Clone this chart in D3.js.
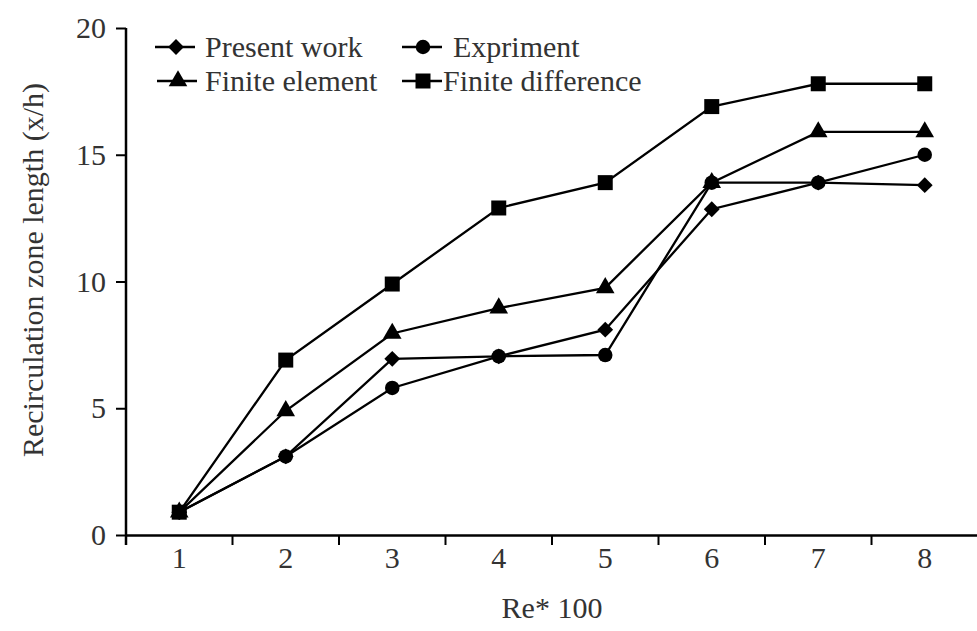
<!DOCTYPE html>
<html>
<head>
<meta charset="utf-8">
<script src="https://cdn.jsdelivr.net/npm/d3@7"></script>
<style>
  body { margin: 0; background: #fff; }
  text { font-family: "Liberation Serif", "Times New Roman", serif; fill: #333; }
</style>
</head>
<body>
<div id="chart"></div>
<script>
// Data
const categories = ["1", "2", "3", "4", "5", "6", "7", "8"];
const presentWork = [0.9, 3.1, 6.95, 7.05, 8.1, 12.85, 13.9, 13.8];
const experiment = [0.9, 3.1, 5.8, 7.05, 7.1, 13.9, 13.9, 15.0];
const finiteElement = [0.9, 4.9, 7.95, 8.95, 9.75, 13.9, 15.9, 15.9];
const finiteDifference = [0.9, 6.9, 9.9, 12.9, 13.9, 16.9, 17.8, 17.8];
const yTicks = [0, 5, 10, 15, 20];

const series = [
  { name: "Present work", values: presentWork, symbol: "diamond" },
  { name: "Expriment", values: experiment, symbol: "circle" },
  { name: "Finite element", values: finiteElement, symbol: "triangle" },
  { name: "Finite difference", values: finiteDifference, symbol: "square" }
];

const W = 977, H = 631;
const plotLeft = 126, plotBottom = 535, plotTop = 28;

const svg = d3.select("#chart").append("svg")
  .attr("width", W)
  .attr("height", H);

// Scales
const x = d3.scaleBand().domain(categories).range([plotLeft, plotLeft + 8 * 106.5]);
const y = d3.scaleLinear().domain([0, 20]).range([plotBottom, plotTop]);

// Marker shapes
function symbolPath(kind) {
  if (kind === "diamond") return d3.symbol(d3.symbolSquare, 125)();
  if (kind === "circle") return d3.symbol(d3.symbolCircle, 165)();
  if (kind === "triangle") return d3.symbol(d3.symbolTriangle, 150)();
  return d3.symbol(d3.symbolSquare, 225)();
}
function drawMarker(g, kind, cx, cy) {
  g.append("path")
    .attr("d", symbolPath(kind))
    .attr("transform", `translate(${cx},${cy})` + (kind === "diamond" ? " rotate(45)" : ""))
    .attr("fill", "#000");
}

// X axis
const xAxis = svg.append("g")
  .attr("transform", `translate(0,${plotBottom})`)
  .call(d3.axisBottom(x).tickSize(0).tickPadding(12));
xAxis.select(".domain").attr("stroke", "#000").attr("stroke-width", 2.5);
xAxis.selectAll("text")
  .style("font-size", "30px")
  .style("font-family", "Liberation Serif, serif")
  .attr("fill", "#333");

// tick marks at band boundaries
const bounds = categories.map(c => x(c));
svg.append("g").selectAll("line")
  .data(bounds)
  .join("line")
  .attr("x1", d => d).attr("x2", d => d)
  .attr("y1", plotBottom).attr("y2", plotBottom + 10)
  .attr("stroke", "#000").attr("stroke-width", 2);

// Y axis
const yAxis = svg.append("g")
  .attr("transform", `translate(${plotLeft},0)`)
  .call(d3.axisLeft(y).tickValues(yTicks).tickSize(10).tickPadding(10));
yAxis.select(".domain").attr("stroke", "#000").attr("stroke-width", 2.5)
  .attr("d", `M0,${plotTop}V${plotBottom + 10}`);
yAxis.selectAll(".tick line").attr("stroke", "#000").attr("stroke-width", 2);
yAxis.selectAll("text")
  .style("font-size", "30px")
  .style("font-family", "Liberation Serif, serif")
  .attr("fill", "#333");

// Axis titles
svg.append("text")
  .attr("x", 552).attr("y", 618)
  .attr("text-anchor", "middle")
  .style("font-size", "30px")
  .text("Re* 100");

svg.append("text")
  .attr("transform", "translate(43,270) rotate(-90)")
  .attr("text-anchor", "middle")
  .style("font-size", "30px")
  .text("Recirculation zone length (x/h)");

// Lines and markers
const line = d3.line()
  .x((d, i) => x(categories[i]) + x.bandwidth() / 2)
  .y(d => y(d));

series.forEach(s => {
  svg.append("path")
    .datum(s.values)
    .attr("d", line)
    .attr("fill", "none")
    .attr("stroke", "#000")
    .attr("stroke-width", 2.3);
  const g = svg.append("g");
  s.values.forEach((v, i) => drawMarker(g, s.symbol, x(categories[i]) + x.bandwidth() / 2, y(v)));
});

// Legend
const legendItems = [
  { s: series[0], lx: 155, tx: 205, ly: 47 },
  { s: series[1], lx: 402, tx: 453, ly: 47 },
  { s: series[2], lx: 157, tx: 205, ly: 81 },
  { s: series[3], lx: 402, tx: 443, ly: 81 }
];
legendItems.forEach(d => {
  const g = svg.append("g");
  g.append("line")
    .attr("x1", d.lx).attr("x2", d.lx + 40)
    .attr("y1", d.ly).attr("y2", d.ly)
    .attr("stroke", "#000").attr("stroke-width", 2.3);
  drawMarker(g, d.s.symbol, d.lx + 21, d.ly);
  g.append("text")
    .attr("x", d.tx).attr("y", d.ly + 10)
    .style("font-size", "30px")
    .text(d.s.name);
});
</script>
</body>
</html>
